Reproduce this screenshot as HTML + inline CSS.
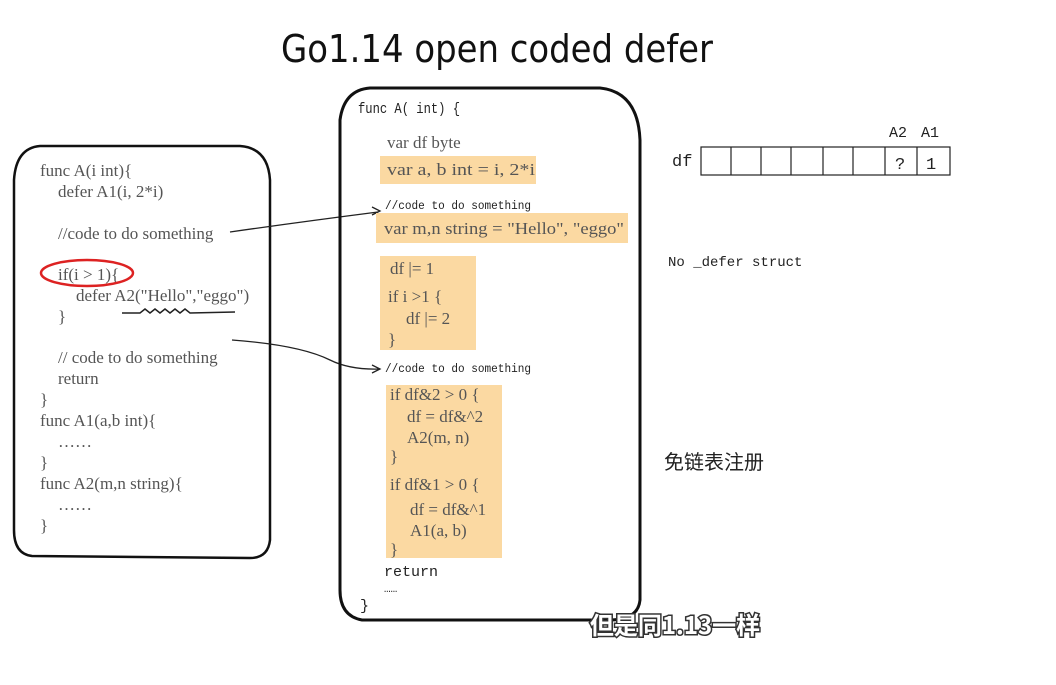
<!DOCTYPE html>
<html><head><meta charset="utf-8"><style>
html,body{margin:0;padding:0;background:#fff;}
svg{display:block}
.s{font-family:"Liberation Serif","Noto Serif CJK SC",serif;font-size:17px;fill:#555}
.h{font-family:"Liberation Mono","DejaVu Sans Mono",monospace;fill:#222}
</style></head><body>
<svg width="1056" height="685" viewBox="0 0 1056 685" xmlns="http://www.w3.org/2000/svg">
<text x="497" y="62" text-anchor="middle" font-family="DejaVu Sans, Liberation Sans, sans-serif" font-size="38" fill="#111" textLength="432" lengthAdjust="spacingAndGlyphs">Go1.14 open coded defer</text>
<!-- left box -->
<path d="M40 146 L240 146 Q268 148 270 180 L270 540 Q268 558 250 558 L32 556 Q14 554 14 530 L14 180 Q16 148 40 146 Z" fill="none" stroke="#111" stroke-width="2.5"/>
<g class="s">
<text x="40" y="176">func A(i int){</text>
<text x="58" y="197">defer A1(i, 2*i)</text>
<text x="58" y="239">//code to do something</text>
<text x="58" y="280">if(i &gt; 1){</text>
<text x="76" y="301">defer A2("Hello","eggo")</text>
<text x="58" y="322">}</text>
<text x="58" y="363">// code to do something</text>
<text x="58" y="384">return</text>
<text x="40" y="405">}</text>
<text x="40" y="426">func A1(a,b int){</text>
<text x="58" y="447">……</text>
<text x="40" y="468">}</text>
<text x="40" y="489">func A2(m,n string){</text>
<text x="58" y="510">……</text>
<text x="40" y="531">}</text>
</g>
<ellipse cx="87" cy="273" rx="46" ry="13" fill="none" stroke="#d22" stroke-width="2.5"/>
<path d="M122 313 L140 313 l5 -4 l5 4 l5 -4 l5 4 l5 -4 l5 4 l5 -4 l5 4 l5 -4 l5 4 L235 312" fill="none" stroke="#222" stroke-width="1.5"/>
<!-- arrows -->
<path d="M230 232 Q300 222 378 212" fill="none" stroke="#222" stroke-width="1.3"/>
<path d="M372 207 L380 211 L372 215" fill="none" stroke="#222" stroke-width="1.3"/>
<path d="M232 340 Q300 345 330 360 Q350 370 380 369" fill="none" stroke="#222" stroke-width="1.3"/>
<path d="M372 365 L380 369 L372 373" fill="none" stroke="#222" stroke-width="1.3"/>
<!-- middle box -->
<path d="M370 88 L600 88 Q638 92 640 140 L640 600 Q638 620 610 620 L362 620 Q340 616 340 590 L340 120 Q344 90 370 88 Z" fill="none" stroke="#111" stroke-width="3"/>
<g fill="#fbd9a2">
<rect x="380" y="156" width="156" height="28"/>
<rect x="376" y="213" width="252" height="30"/>
<rect x="380" y="256" width="96" height="94"/>
<rect x="386" y="385" width="116" height="173"/>
</g>
<g class="h" font-size="15">
<text x="358" y="113" textLength="102" lengthAdjust="spacingAndGlyphs">func A( int) {</text>
<text x="385" y="209" font-size="12" textLength="146" lengthAdjust="spacingAndGlyphs">//code to do something</text>
<text x="385" y="372" font-size="12" textLength="146" lengthAdjust="spacingAndGlyphs">//code to do something</text>
<text x="384" y="576">return</text>
<text x="384" y="592" font-size="11">……</text>
<text x="360" y="610">}</text>
</g>
<g class="s" font-size="17">
<text x="387" y="148">var df byte</text>
<text x="387" y="175" textLength="148" lengthAdjust="spacingAndGlyphs">var a, b int = i, 2*i</text>
<text x="384" y="234" textLength="240" lengthAdjust="spacingAndGlyphs">var m,n string = "Hello", "eggo"</text>
<text x="390" y="274">df |= 1</text>
<text x="388" y="302">if i &gt;1 {</text>
<text x="406" y="324">df |= 2</text>
<text x="388" y="345">}</text>
<text x="390" y="400">if df&amp;2 &gt; 0 {</text>
<text x="407" y="422">df = df&amp;^2</text>
<text x="407" y="443">A2(m, n)</text>
<text x="390" y="462">}</text>
<text x="390" y="490">if df&amp;1 &gt; 0 {</text>
<text x="410" y="515">df = df&amp;^1</text>
<text x="410" y="536">A1(a, b)</text>
<text x="390" y="555">}</text>
</g>
<!-- right -->
<text x="672" y="166" class="h" font-size="17">df</text>
<g fill="none" stroke="#222" stroke-width="1.2">
<rect x="701" y="147" width="249" height="28"/>
<line x1="731" y1="147" x2="731" y2="175"/><line x1="761" y1="147" x2="761" y2="175"/>
<line x1="791" y1="147" x2="791" y2="175"/><line x1="823" y1="147" x2="823" y2="175"/>
<line x1="853" y1="147" x2="853" y2="175"/><line x1="885" y1="147" x2="885" y2="175"/>
<line x1="917" y1="147" x2="917" y2="175"/>
</g>
<g class="h" font-size="17">
<text x="895" y="169">?</text><text x="926" y="169">1</text>
<text x="889" y="137" font-size="15">A2</text><text x="921" y="137" font-size="15">A1</text>
<text x="668" y="266" font-size="14">No _defer struct</text>
</g>
<text x="664" y="469" font-family="Noto Sans CJK SC, sans-serif" font-size="20" fill="#222">免链表注册</text>
<text x="675" y="634" text-anchor="middle" font-family="Noto Sans CJK SC, sans-serif" font-size="24" font-weight="bold" fill="#fff" stroke="#333" stroke-width="3" paint-order="stroke">但是同1.13一样</text>
</svg>
</body></html>
